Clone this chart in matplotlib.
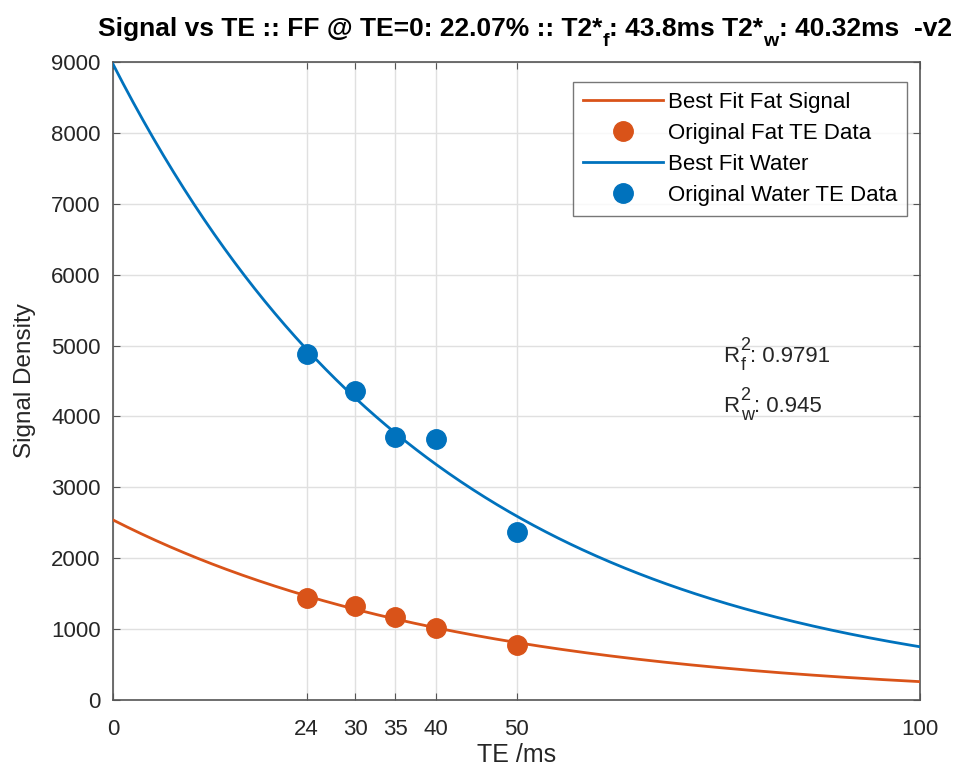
import numpy as np
import matplotlib
matplotlib.use("Agg")
import matplotlib.pyplot as plt
from matplotlib.transforms import IdentityTransform

# ---- data ----
te_ms = [24, 30, 35, 40, 50]
fat_signal = [1441, 1328, 1173, 1018, 775]
water_signal = [4887, 4356, 3709, 3686, 2370]
fat_s0, fat_t2 = 2540, 43.8
water_s0, water_t2 = 8970, 40.32
x_ticks = [0, 24, 30, 35, 40, 50, 100]
y_ticks = list(range(0, 9001, 1000))
r2_fat, r2_water = "0.9791", "0.945"

fam = "Liberation Sans"
plt.rcParams['font.family'] = [fam, 'DejaVu Sans']

orange = '#D95319'
blue = '#0072BD'
txtc = '#262626'

W, H = 967, 778
fig = plt.figure(figsize=(W/100, H/100), dpi=100)
ax = fig.add_axes([113/W, 1-700/H, (920-113)/W, (700-62)/H])

te_fit = np.linspace(0, 100, 400)
ax.plot(te_fit, fat_s0*np.exp(-te_fit/fat_t2), color=orange, lw=2, label='Best Fit Fat Signal', zorder=3)
ax.plot(te_ms, fat_signal, 'o', color=orange, ms=14, label='Original Fat TE Data', zorder=4)
ax.plot(te_fit, water_s0*np.exp(-te_fit/water_t2), color=blue, lw=2, label='Best Fit Water', zorder=3)
ax.plot(te_ms, water_signal, 'o', color=blue, ms=14, label='Original Water TE Data', zorder=4)

ax.set_xlim(0, 100)
ax.set_ylim(0, 9000)
ax.set_xticks(x_ticks)
ax.set_yticks(y_ticks)
ax.grid(True, color='#e0e0e0', lw=1)
ax.set_axisbelow(True)
ax.tick_params(direction='in', length=5, labelsize=16, colors=txtc, top=True, right=True)
ax.tick_params(axis='x', pad=14)
ax.tick_params(axis='y', pad=9)
ax.tick_params(color='#555555')
for s in ax.spines.values():
    s.set_color('#555555')
    s.set_linewidth(1.2)

ax.set_xlabel('TE /ms', fontsize=18, color=txtc, labelpad=2)
ax.set_ylabel('Signal Density', fontsize=17.5, color=txtc, labelpad=11)

leg = ax.legend(loc='upper right', bbox_to_anchor=((907-113)/807, (700-82)/638), bbox_transform=ax.transAxes,
                fontsize=16, frameon=True, fancybox=False, edgecolor='#555555', borderaxespad=0,
                handlelength=3.6, labelspacing=0.45, handletextpad=0.2, borderpad=0.45)
leg.get_frame().set_linewidth(1)

fig.canvas.draw()
renderer = fig.canvas.get_renderer()

def draw_pieces(pieces, x0, base, center=False):
    """pieces: list of (text, size, dy_px, weight)."""
    x = x0
    arts = []
    for txt, size, dy, weight in pieces:
        t = fig.text(x, base + dy, txt, fontsize=size, fontweight=weight, color='black',
                     transform=IdentityTransform(), ha='left', va='baseline')
        x += t.get_window_extent(renderer).width
        arts.append(t)
    total = x - x0
    if center:
        for t in arts:
            px, py = t.get_position()
            t.set_position((px - total / 2, py))
    return arts

# Title
tsz, ssz = 19, 14
title_pieces = [
    ('Signal vs TE :: FF @ TE=0: 22.07% :: T2*', tsz, 0, 'bold'),
    ('f', ssz, -10, 'bold'),
    (': 43.8ms T2*', tsz, 0, 'bold'),
    ('w', ssz, -10, 'bold'),
    (': 40.32ms  -v2', tsz, 0, 'bold'),
]
draw_pieces(title_pieces, 525, H - 36, center=True)

# R^2 annotations
def r2(base_top, sub, val):
    base = H - base_top
    r = fig.text(723, base, 'R', fontsize=16, color=txtc, transform=IdentityTransform(), va='baseline')
    xr = 723 + r.get_window_extent(renderer).width + 1
    s2 = fig.text(xr, base + 12, '2', fontsize=13, color=txtc, transform=IdentityTransform(), va='baseline')
    sb = fig.text(xr + 1, base - 8, sub, fontsize=13, color=txtc, transform=IdentityTransform(), va='baseline')
    xe = max(xr + s2.get_window_extent(renderer).width, xr + 1 + sb.get_window_extent(renderer).width)
    fig.text(xe, base, ': ' + val, fontsize=16, color=txtc, transform=IdentityTransform(), va='baseline')

r2(362, 'f', r2_fat)
r2(412, 'w', r2_water)

fig.savefig('out.png', dpi=100)
